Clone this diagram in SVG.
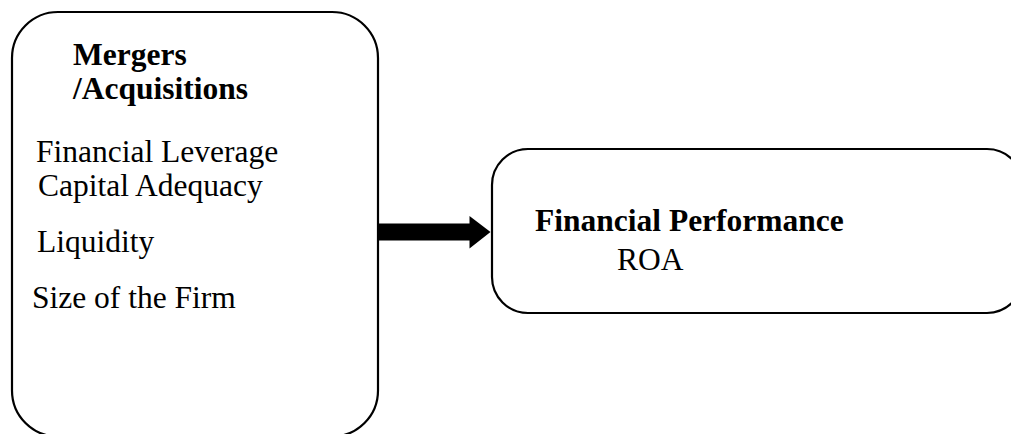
<svg xmlns="http://www.w3.org/2000/svg" width="1011" height="434" viewBox="0 0 1011 434">
<style>
.box{fill:#fff;stroke:#000;stroke-width:2.2}
.t{font-family:"Liberation Serif","Times New Roman",serif;font-size:31.5px;fill:#000}
.b{font-weight:bold}
</style>
<rect width="1011" height="434" fill="#fff"/>
<g id="connectors">
<path d="M378,223.5 H469.5 V216 L490.5,232 L469.5,248.5 V240.5 H378 Z" fill="#000"/>
</g>
<g id="node-mergers">
<rect class="box" x="12" y="12" width="366" height="424.5" rx="46" ry="46"/>
<text class="t b" x="73" y="65">Mergers</text>
<text class="t b" x="73" y="99">/Acquisitions</text>
<text class="t" x="36" y="162">Financial Leverage</text>
<text class="t" x="38" y="196">Capital Adequacy</text>
<text class="t" x="37" y="252">Liquidity</text>
<text class="t" x="32" y="308">Size of the Firm</text>
</g>
<g id="node-performance">
<rect class="box" x="492" y="149" width="531" height="164" rx="36" ry="36"/>
<text class="t b" x="535" y="231">Financial Performance</text>
<text class="t" x="617" y="270">ROA</text>
</g>
</svg>
